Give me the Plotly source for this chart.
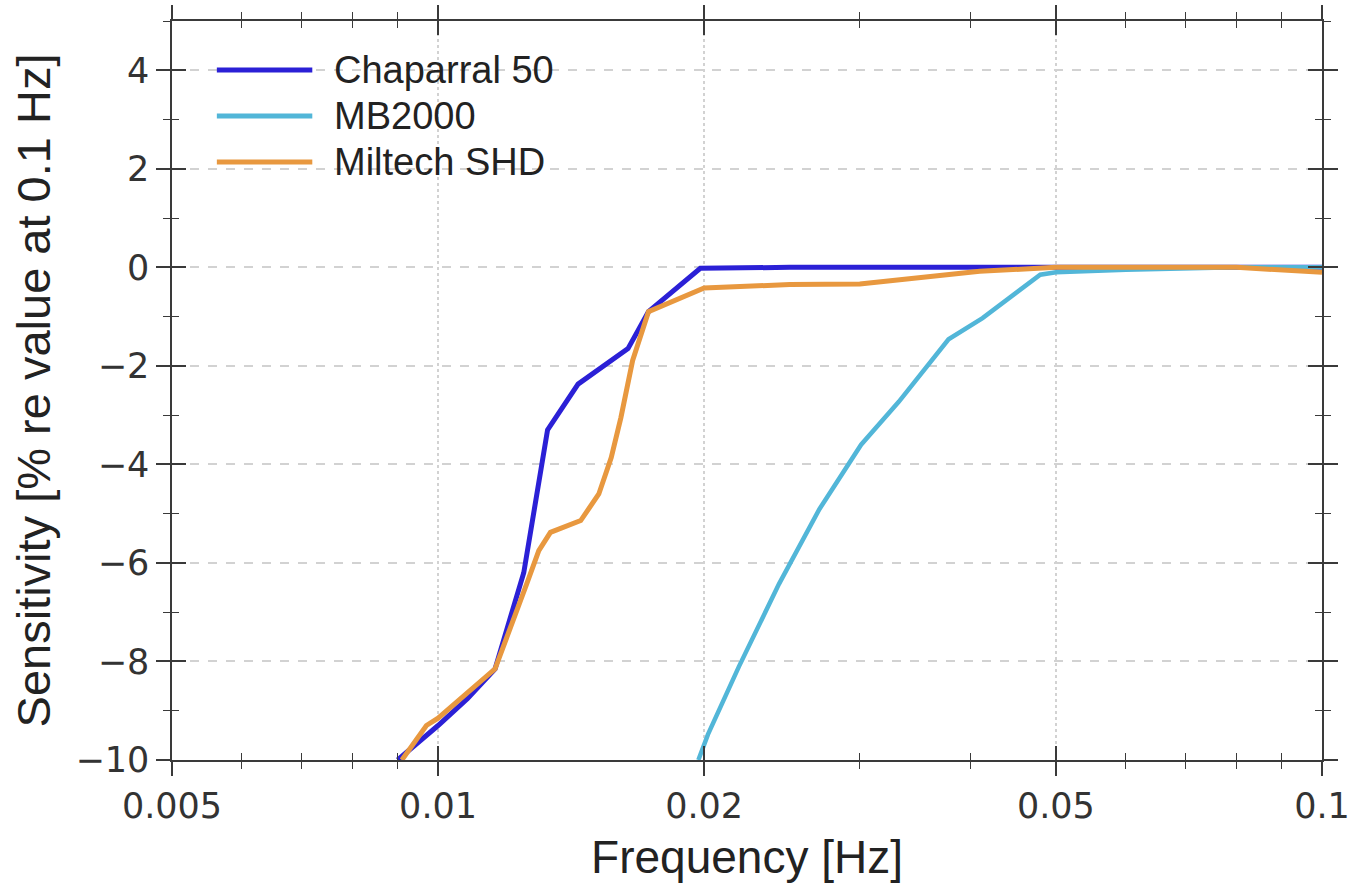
import plotly.graph_objects as go
import math

# ---- data ----
series_names = ["Chaparral 50", "MB2000", "Miltech SHD"]
series_colors = ["#2b20d6", "#52b6d8", "#e8983f"]

chap_f = [0.0090, 0.0100, 0.0108, 0.0116, 0.0125, 0.0133, 0.0144, 0.0157, 0.0164, 0.0173, 0.0198, 0.025, 0.030, 0.040, 0.050, 0.060, 0.080, 0.100]
chap_v = [-10.0, -9.3, -8.75, -8.15, -6.2, -3.3, -2.37, -1.89, -1.65, -0.9, -0.02, 0.0, 0.0, 0.0, 0.02, 0.02, 0.0, 0.0]

mb_f = [0.0197, 0.0202, 0.0219, 0.0243, 0.0270, 0.0301, 0.0332, 0.0378, 0.0413, 0.0480, 0.050, 0.060, 0.080, 0.100]
mb_v = [-10.0, -9.48, -8.1, -6.43, -4.91, -3.6, -2.73, -1.46, -1.03, -0.15, -0.1, -0.05, 0.0, 0.0]

mil_f = [0.0091, 0.0097, 0.0100, 0.0116, 0.0126, 0.0130, 0.0134, 0.0145, 0.0152, 0.0157, 0.0161, 0.0166, 0.0173, 0.0200, 0.025, 0.030, 0.041, 0.050, 0.060, 0.080, 0.100]
mil_v = [-10.0, -9.3, -9.15, -8.15, -6.42, -5.75, -5.38, -5.14, -4.6, -3.86, -3.05, -1.89, -0.9, -0.42, -0.35, -0.34, -0.08, 0.0, 0.0, 0.0, -0.1]

series_f = [chap_f, mb_f, mil_f]
series_v = [chap_v, mb_v, mil_v]
series_widths = [5, 4.5, 5]

x_ticks = [0.005, 0.01, 0.02, 0.05, 0.1]
x_ticktext = ["0.005", "0.01", "0.02", "0.05", "0.1"]
x_minor = [0.006, 0.007, 0.008, 0.009, 0.03, 0.04, 0.06, 0.07, 0.08, 0.09]
y_ticks = [-10, -8, -6, -4, -2, 0, 2, 4]
y_minor = [-9, -7, -5, -3, -1, 1, 3, 5]
x_range = [0.005, 0.1]
y_range = [-10, 5]

fig = go.Figure()
for name, f, v, c, w in zip(series_names, series_f, series_v, series_colors, series_widths):
    fig.add_trace(go.Scatter(x=f, y=v, mode="lines", name=name,
                             line=dict(color=c, width=w), showlegend=False))

# dummy trace to host the inward-tick overlay axes
fig.add_trace(go.Scatter(x=[None], y=[None], xaxis="x2", yaxis="y2", showlegend=False, hoverinfo="skip"))

lx = [math.log10(x_range[0]), math.log10(x_range[1])]
tickfont = dict(family="DejaVu Sans", size=35, color="#333333")
axcol = "#3a3a3a"
gridcol = "#d2d2d2"

fig.update_layout(
    width=1356, height=888,
    margin=dict(l=172, r=34, t=21, b=128),
    paper_bgcolor="white", plot_bgcolor="white",
    xaxis=dict(type="log", range=lx, tickvals=x_ticks, ticktext=x_ticktext, automargin=False,
               ticks="outside", ticklen=14, tickwidth=1.5, tickcolor=axcol,
               showline=True, linecolor=axcol, linewidth=1.5, mirror="ticks",
               showgrid=True, gridcolor=gridcol, gridwidth=1.5, griddash="dot",
               minor=dict(tickvals=x_minor, ticks="outside", ticklen=7, tickcolor=axcol, tickwidth=1.2, showgrid=False),
               tickfont=tickfont, zeroline=False,
               title=dict(text="Frequency [Hz]", font=dict(family="Liberation Sans", size=46, color="#222222"), standoff=16)),
    yaxis=dict(range=y_range, tickvals=y_ticks, automargin=False,
               ticks="outside", ticklen=14, tickwidth=1.5, tickcolor=axcol,
               showline=True, linecolor=axcol, linewidth=1.5, mirror="ticks",
               showgrid=True, gridcolor=gridcol, gridwidth=1.5, griddash="dash",
               minor=dict(tickvals=y_minor, ticks="outside", ticklen=7, tickcolor=axcol, tickwidth=1.2, showgrid=False),
               tickfont=tickfont, zeroline=False,
               title=dict(text="Sensitivity [% re value at 0.1 Hz]", font=dict(family="Liberation Sans", size=47, color="#222222"), standoff=10)),
    xaxis2=dict(type="log", range=lx, overlaying="x", anchor="y2", side="bottom", tickvals=x_ticks, automargin=False,
                ticks="inside", ticklen=14, tickwidth=1.5, tickcolor=axcol, mirror="ticks",
                showline=False, showgrid=False, showticklabels=False, zeroline=False,
                minor=dict(tickvals=x_minor, ticks="inside", ticklen=7, tickcolor=axcol, tickwidth=1.2, showgrid=False)),
    yaxis2=dict(range=y_range, overlaying="y", anchor="x2", side="left", tickvals=y_ticks, automargin=False,
                ticks="inside", ticklen=14, tickwidth=1.5, tickcolor=axcol, mirror="ticks",
                showline=False, showgrid=False, showticklabels=False, zeroline=False,
                minor=dict(tickvals=y_minor, ticks="inside", ticklen=7, tickcolor=axcol, tickwidth=1.2, showgrid=False)),
)

# custom legend (paper coordinates)
legend_y = [0.9337, 0.8714, 0.8092]
for name, c, yy in zip(series_names, series_colors, legend_y):
    fig.add_shape(type="line", xref="paper", yref="paper", x0=0.039, x1=0.122, y0=yy, y1=yy,
                  line=dict(color=c, width=5))
    fig.add_annotation(xref="paper", yref="paper", x=0.139, y=yy, text=name, showarrow=False,
                       xanchor="left", yanchor="middle",
                       font=dict(family="Liberation Sans", size=38, color="#222222"))

fig.write_html("out.html")
